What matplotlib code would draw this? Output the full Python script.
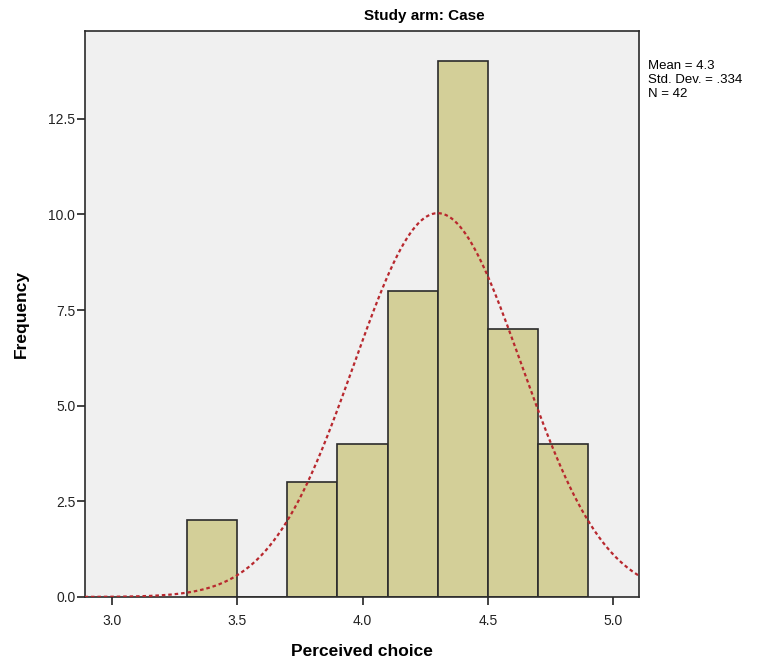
import numpy as np
import matplotlib
matplotlib.use("Agg")
import matplotlib.pyplot as plt

plt.rcParams['font.family'] = ['Liberation Sans', 'DejaVu Sans']

# histogram bins (lower edges) and counts
bin_edges = [3.3, 3.5, 3.7, 3.9, 4.1, 4.3, 4.5, 4.7, 4.9]
counts = [2, 0, 3, 4, 8, 14, 7, 4]
mean_val = 4.3
std_val = 0.334
n_obs = 42
x_ticks = [3.0, 3.5, 4.0, 4.5, 5.0]
y_ticks = [0.0, 2.5, 5.0, 7.5, 10.0, 12.5]

fig = plt.figure(figsize=(7.59, 6.64), dpi=100)
ax = fig.add_axes([0.112, 0.101, 0.730, 0.852])
ax.set_facecolor('#f0f0f0')

lefts = bin_edges[:-1]
widths = np.diff(bin_edges)
ax.bar(lefts, counts, width=widths, align='edge', color='#d3cf98',
       edgecolor='#2b2b2b', linewidth=1.2, zorder=2)

# normal curve scaled to counts
bw = widths[0]
xs = np.linspace(2.89, 5.105, 400)
ys = n_obs * bw * np.exp(-0.5 * ((xs - mean_val) / std_val) ** 2) / (std_val * np.sqrt(2 * np.pi))
ax.plot(xs, ys, color='#b8282e', linestyle=(0, (1.6, 1.3)), linewidth=1.6, zorder=3)

ax.set_xlim(2.892, 5.104)
ax.set_ylim(0, 14.79)
ax.set_xticks(x_ticks)
ax.set_xticklabels([f"{v:.1f}" for v in x_ticks])
ax.set_yticks(y_ticks)
ax.set_yticklabels([f"{v:.1f}" for v in y_ticks])
ax.tick_params(direction='out', length=6, width=1.2, labelsize=10, colors='#222222')
ax.tick_params(axis='x', pad=6)
ax.tick_params(axis='y', pad=1)
for s in ax.spines.values():
    s.set_color('#2b2b2b')
    s.set_linewidth(1.2)

ax.set_xlabel('Perceived choice', fontsize=12.5, fontweight='bold', labelpad=12)
ax.set_ylabel('Frequency', fontsize=12.5, fontweight='bold', labelpad=14)

fig.text(424 / 759, 1 - 16 / 664, 'Study arm: Case', ha='center', va='center',
         fontsize=11, fontweight='bold')
fig.text(648 / 759, 1 - 60 / 664,
         f"Mean = {mean_val}\nStd. Dev. = .{int(round(std_val * 1000))}\nN = {n_obs}",
         ha='left', va='top', fontsize=9.5, linespacing=1.2)

fig.savefig('out.png', dpi=100)
